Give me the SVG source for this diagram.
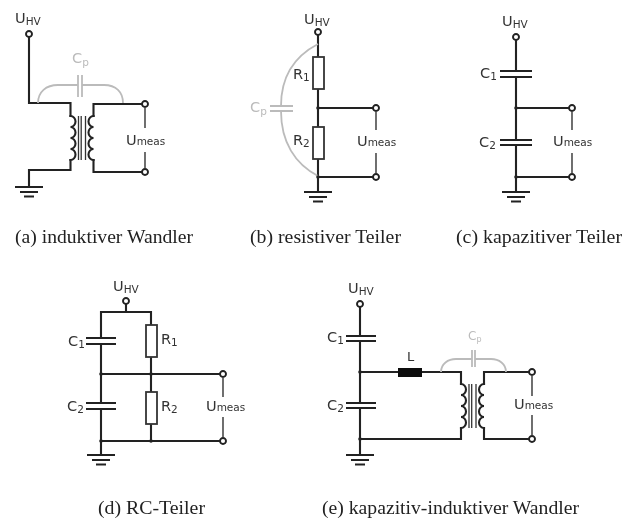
<svg xmlns="http://www.w3.org/2000/svg" width="629" height="520" viewBox="0 0 629 520">
<style>
.w{fill:none;stroke:#222;stroke-width:2.1;stroke-linecap:square}
.t{fill:none;stroke:#222;stroke-width:1.3}
.g{fill:none;stroke:#bbb;stroke-width:1.8}
.p{fill:none;stroke:#222;stroke-width:1.9}
.r{fill:#fff;stroke:#333;stroke-width:1.8}
.k{fill:none;stroke:#333;stroke-width:1.3}
.o{fill:#fff;stroke:#222;stroke-width:1.9}
.d{fill:#222}
text{font-family:"DejaVu Sans",sans-serif;font-size:14.5px;fill:#333}
.sm{font-size:10.5px}
.gt{fill:#bbb}
.cap{font-family:"Liberation Serif",serif;font-size:19px;fill:#222}
</style>
<defs>
<filter id="b" x="0" y="0" width="100%" height="100%"><feGaussianBlur stdDeviation="0.45"/></filter>
<g id="gnd" class="w"><path d="M-14 0H14M-9 5H9M-5 9.500H5" style="stroke-linecap:butt"/></g>
<path id="cr" d="M0 0a5 5.500 0 0 1 0 11a5 5.500 0 0 1 0 11a5 5.500 0 0 1 0 11a5 5.500 0 0 1 0 11" class="w"/>
<path id="cl" d="M0 0a5 5.500 0 0 0 0 11a5 5.500 0 0 0 0 11a5 5.500 0 0 0 0 11a5 5.500 0 0 0 0 11" class="w"/>
<g id="core" class="k"><path d="M0 0V44M2.700 0V44M7 0V44"/></g>
<circle id="term" r="3" class="o"/>
<circle id="dot" r="1.800" class="d"/>
</defs>
<g filter="url(#b)">
<rect width="629" height="520" fill="#fff"/>
<g id="connectors">
<path class="w" d="M29 37V103H70.500V116M70.500 160V170H29V187"/>
<path class="w" d="M145 104H93.500V116M93.500 160V172H145"/>
<path class="g" d="M38 103C38 92 46 85 58 85H78M82 85H104C116 85 123 92 123 103"/>
<path class="t" d="M145 108V128M145 152V168"/>
<path class="w" d="M318 35V57M318 89V127M318 159V192M318 108H376M318 177H376"/>
<path class="g" d="M318 44C295 56 281 76 281 106M281 111C281 142 295 164 318 176"/>
<path class="t" d="M376 112V130M376 153V173"/>
<path class="w" d="M516 40V71M516 77V140M516 145V192M516 108H572M516 177H572"/>
<path class="t" d="M572 112V130M572 153V173"/>
<path class="w" d="M126 304V312M101 312H151M101 312V338M101 344V403M101 409V455M151 312V325M151 357V392M151 424V441M101 374H223M101 441H223"/>
<path class="t" d="M223 378V397M223 417V437"/>
<path class="w" d="M360 307V336M360 341V403M360 408V455M360 372H398M422 372H461V384M461 428V439H360M484 384V372H532M484 428V439H532"/>
<path class="g" d="M441 372C441 364 448 359 456 359H472M475 359H491C499 359 506 364 506 372"/>
<path class="t" d="M532 376V396M532 415V435"/>
</g>
<g id="node-a">
<use href="#term" x="29" y="34"/><use href="#term" x="145" y="104"/><use href="#term" x="145" y="172"/>
<use href="#gnd" x="29" y="187"/>
<use href="#cr" x="70.500" y="116"/><use href="#cl" x="93.500" y="116"/><use href="#core" x="78.500" y="116"/>
<path class="g" d="M78 75V97M82 75V97"/>
<text x="15" y="23">U<tspan class="sm" dy="2">HV</tspan></text>
<text class="gt" x="72" y="63">C<tspan class="sm gt" dy="3">p</tspan></text>
<text x="126" y="145">U<tspan class="sm">meas</tspan></text>
<text class="cap" x="15" y="243" textLength="178" lengthAdjust="spacingAndGlyphs">(a) induktiver Wandler</text>
</g>
<g id="node-b">
<use href="#term" x="318" y="32"/><use href="#term" x="376" y="108"/><use href="#term" x="376" y="177"/>
<use href="#gnd" x="318" y="192"/>
<use href="#dot" x="318" y="108"/><use href="#dot" x="318" y="177"/>
<rect class="r" x="313" y="57" width="11" height="32"/><rect class="r" x="313" y="127" width="11" height="32"/>
<path class="g" d="M270 106H293M270 111H293"/>
<text x="293" y="79">R<tspan class="sm" dy="2">1</tspan></text>
<text x="293" y="145">R<tspan class="sm" dy="2">2</tspan></text>
<text class="gt" x="250" y="112">C<tspan class="sm gt" dy="3">p</tspan></text>
<text x="357" y="146">U<tspan class="sm">meas</tspan></text>
<text x="304" y="24">U<tspan class="sm" dy="2">HV</tspan></text>
<text class="cap" x="250" y="243" textLength="151" lengthAdjust="spacingAndGlyphs">(b) resistiver Teiler</text>
</g>
<g id="node-c">
<use href="#term" x="516" y="37"/><use href="#term" x="572" y="108"/><use href="#term" x="572" y="177"/>
<use href="#gnd" x="516" y="192"/>
<use href="#dot" x="516" y="108"/><use href="#dot" x="516" y="177"/>
<path class="p" d="M500 71H532M500 77H532M500 140H532M500 145H532"/>
<text x="502" y="26">U<tspan class="sm" dy="2">HV</tspan></text>
<text x="480" y="78">C<tspan class="sm" dy="2">1</tspan></text>
<text x="479" y="147">C<tspan class="sm" dy="2">2</tspan></text>
<text x="553" y="146">U<tspan class="sm">meas</tspan></text>
<text class="cap" x="456" y="243" textLength="166" lengthAdjust="spacingAndGlyphs">(c) kapazitiver Teiler</text>
</g>
<g id="node-d">
<use href="#term" x="126" y="301"/><use href="#term" x="223" y="374"/><use href="#term" x="223" y="441"/>
<use href="#gnd" x="101" y="455"/>
<use href="#dot" x="101" y="374"/><use href="#dot" x="151" y="374"/><use href="#dot" x="101" y="441"/><use href="#dot" x="151" y="441"/>
<path class="p" d="M86 338H116M86 344H116M86 403H116M86 409H116"/>
<rect class="r" x="146" y="325" width="11" height="32"/><rect class="r" x="146" y="392" width="11" height="32"/>
<text x="113" y="291">U<tspan class="sm" dy="2">HV</tspan></text>
<text x="68" y="346">C<tspan class="sm" dy="2">1</tspan></text>
<text x="67" y="411">C<tspan class="sm" dy="2">2</tspan></text>
<text x="161" y="344">R<tspan class="sm" dy="2">1</tspan></text>
<text x="161" y="411">R<tspan class="sm" dy="2">2</tspan></text>
<text x="206" y="411">U<tspan class="sm">meas</tspan></text>
<text class="cap" x="98" y="514" textLength="107" lengthAdjust="spacingAndGlyphs">(d) RC-Teiler</text>
</g>
<g id="node-e">
<use href="#term" x="360" y="304"/><use href="#term" x="532" y="372"/><use href="#term" x="532" y="439"/>
<use href="#gnd" x="360" y="455"/>
<use href="#dot" x="360" y="372"/><use href="#dot" x="360" y="439"/>
<path class="p" d="M346 336H376M346 341H376M346 403H376M346 408H376"/>
<rect x="398" y="368" width="24" height="9" fill="#111"/>
<use href="#cr" x="461" y="384"/><use href="#cl" x="484" y="384"/><use href="#core" x="469" y="384"/>
<path class="g" d="M472 350V367M475 350V367"/>
<text x="348" y="293">U<tspan class="sm" dy="2">HV</tspan></text>
<text x="327" y="342">C<tspan class="sm" dy="2">1</tspan></text>
<text x="327" y="410">C<tspan class="sm" dy="2">2</tspan></text>
<text x="407" y="361" style="font-size:13px">L</text>
<text class="gt" x="468" y="340" style="font-size:12px">C<tspan class="sm gt" dy="2" style="font-size:8px">p</tspan></text>
<text x="514" y="409">U<tspan class="sm">meas</tspan></text>
<text class="cap" x="322" y="514" textLength="257" lengthAdjust="spacingAndGlyphs">(e) kapazitiv-induktiver Wandler</text>
</g>
</g>
</svg>
